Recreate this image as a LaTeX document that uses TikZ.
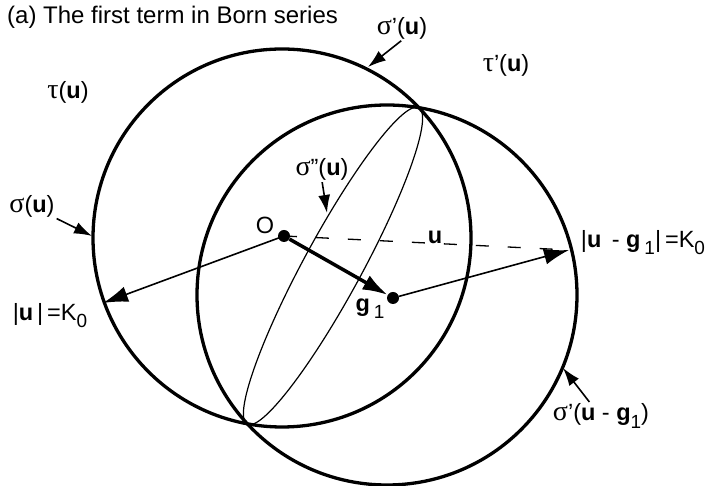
\documentclass[tikz,border=0pt]{standalone}
\usepackage{fontspec}
\setmainfont{Liberation Sans}
\newfontfamily\greekfont{Liberation Serif}
\usepackage{tikz}
\usetikzlibrary{arrows.meta}

\newcommand{\uvec}{\textbf{u}}
\newcommand{\gvec}{\textbf{g}}
\newcommand{\gsig}{{\greekfont\fontsize{28}{28}\selectfont σ}}
\newcommand{\gtau}{{\greekfont\fontsize{28}{28}\selectfont τ}}
\newcommand{\subnum}[1]{\raisebox{-0.3em}{\fontsize{19}{19}\selectfont #1}}

\begin{document}
\begin{tikzpicture}[
  x=1pt, y=1pt,
  font=\fontsize{23.5}{27}\selectfont,
  sphere/.style={line width=3.3pt},
  chord/.style={line width=1.2pt},
  vec/.style={-{Latex[length=25pt,width=16pt]}, line width=1.6pt},
  pointer/.style={-{Latex[length=18pt,width=12pt]}, line width=1.6pt, shorten <=1pt},
  dot/.style={circle, fill, inner sep=0pt, minimum size=12pt},
  lbl/.style={inner sep=1pt}
]
\useasboundingbox (0,0) rectangle (709,486);
% the two Ewald spheres
\coordinate (c1) at (282,248);
\coordinate (c2) at (387,191);
\draw[sphere] (c1) circle[radius=189pt];
\draw[sphere] (c2) circle[radius=190pt];
\draw[chord, rotate around={61.5:(333,220)}] (333,220) ellipse (180pt and 29pt);
% points and vectors
\node[dot] (O)  at (284,250) {};
\node[dot] (g1) at (393,188) {};
\coordinate (k0) at (103,183);
\coordinate (k1) at (569,236);
\draw[vec] (O.center) -- (k0);
\draw[line width=1.3pt, dash pattern=on 13pt off 19pt] (O.center) -- (k1);
\draw[vec, line width=3.5pt] (O) -- (g1);
\draw[vec] (g1) -- (k1);
% labels
\node[lbl, anchor=base west, font=\fontsize{24}{28}\selectfont] (title) at (6,462) {(a) The first term in Born series};
\node[lbl] (tau)   at (68,394)  {\gtau(\uvec)};
\node[lbl] (taup)  at (506,421) {\gtau'(\uvec)};
\node[lbl] (sigp)  at (402,458) {\gsig'(\uvec)};
\node[lbl] (sigpp) at (322,317) {\gsig''(\uvec)};
\node[lbl] (sig)   at (32,280)  {\gsig(\uvec)};
\node[lbl] (kzero) at (50,170)  {|\uvec\,|\,=K\subnum{0}};
\node[lbl] (lO)    at (265,261) {O};
\node[lbl] (lu)    at (435,249) {\uvec};
\node[lbl] (lg)    at (370,177) {\gvec\,\subnum{1}};
\node[lbl] (kone)  at (643,243) {|\uvec\ \,- \gvec\,\subnum{1}|\,=K\subnum{0}};
\node[lbl] (sigg)  at (601,70)  {\gsig'(\uvec\ - \gvec\subnum{1})};
% pointers to the spheres
\coordinate (tsigp)  at (368,419);
\coordinate (tsigpp) at (327,273);
\coordinate (tsig)   at (92,250);
\coordinate (tsigg)  at (563,118);
\draw[pointer] (sigp.south) -- (tsigp);
\draw[pointer] (sigpp.south) -- (tsigpp);
\draw[pointer] (sig.south east) -- (tsig);
\draw[pointer] ([xshift=-11pt]sigg.north) -- (tsigg);
\end{tikzpicture}
\end{document}
